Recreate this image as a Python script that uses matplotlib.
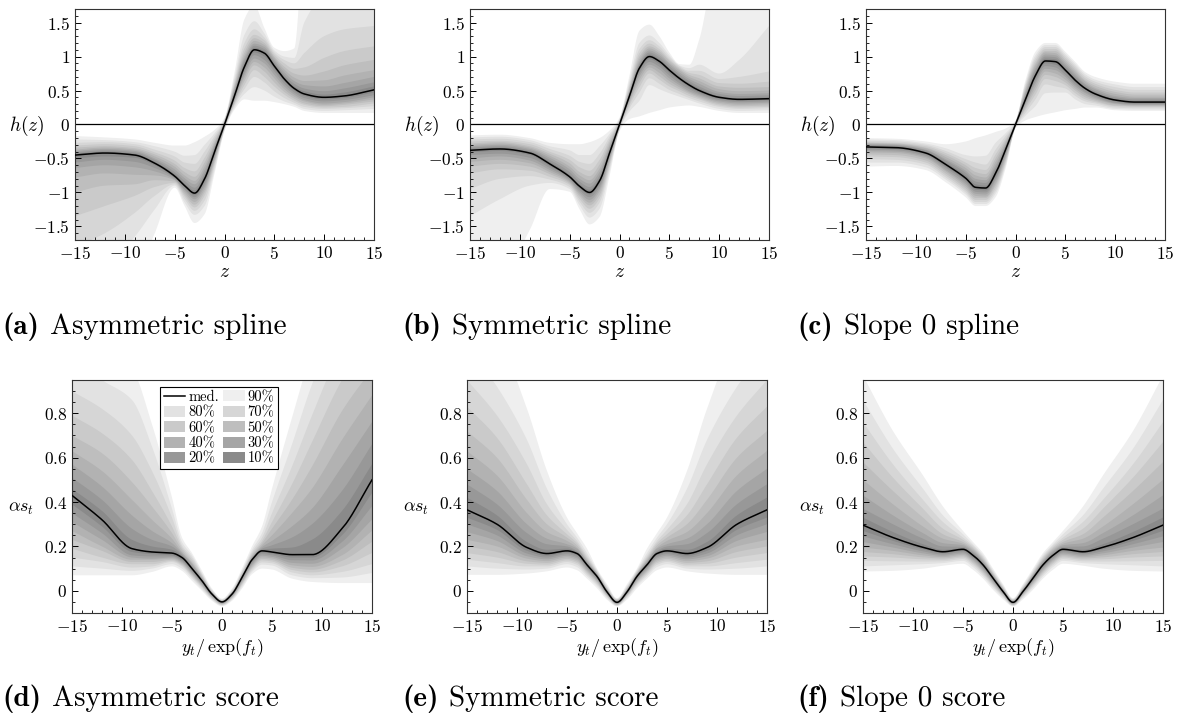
import numpy as np
import matplotlib
matplotlib.use("Agg")
import matplotlib.pyplot as plt
from matplotlib.ticker import MultipleLocator, FuncFormatter
from matplotlib.lines import Line2D
from matplotlib.patches import Patch

plt.rcParams.update({
    "font.family": "serif",
    "font.serif": ["cmr10"],
    "mathtext.fontset": "cm",
    "axes.formatter.use_mathtext": True,
})

# quantile bands, inner to outer
LEVELS = ["10%", "20%", "30%", "40%", "50%", "60%", "70%", "80%", "90%"]
SHADES = ["#8a8a8a", "#989898", "#a5a5a5", "#b2b2b2", "#bebebe",
          "#cacaca", "#d6d6d6", "#e2e2e2", "#efefef"]

# ---- top row: h(z) ----
XT = [-15, -12, -9, -7, -5, -4, -3, -2, -1, 0, 1, 2, 3, 4, 5, 6, 7, 8, 10, 12, 15]

A_MED = [-0.45, -0.42, -0.45, -0.57, -0.76, -0.90, -1.01, -0.80, -0.40, 0.00, 0.42,
         0.85, 1.10, 1.05, 0.86, 0.67, 0.53, 0.45, 0.40, 0.42, 0.51]
# rows follow XT, columns follow LEVELS
A_HI = [
    [-0.43, -0.41, -0.39, -0.37, -0.34, -0.31, -0.27, -0.22, -0.17],
    [-0.40, -0.38, -0.36, -0.34, -0.32, -0.29, -0.26, -0.23, -0.19],
    [-0.43, -0.41, -0.39, -0.37, -0.35, -0.32, -0.29, -0.26, -0.22],
    [-0.55, -0.52, -0.50, -0.47, -0.44, -0.41, -0.37, -0.32, -0.27],
    [-0.73, -0.70, -0.66, -0.62, -0.58, -0.53, -0.47, -0.40, -0.31],
    [-0.87, -0.83, -0.79, -0.75, -0.70, -0.64, -0.56, -0.46, -0.31],
    [-0.97, -0.93, -0.88, -0.83, -0.77, -0.69, -0.58, -0.45, -0.26],
    [-0.76, -0.72, -0.67, -0.62, -0.56, -0.49, -0.40, -0.30, -0.18],
    [-0.37, -0.34, -0.31, -0.28, -0.25, -0.21, -0.17, -0.13, -0.08],
    [0.01, 0.02, 0.03, 0.04, 0.05, 0.06, 0.07, 0.08, 0.10],
    [0.45, 0.48, 0.51, 0.54, 0.57, 0.60, 0.64, 0.69, 0.76],
    [0.89, 0.93, 0.97, 1.01, 1.06, 1.12, 1.20, 1.32, 1.55],
    [1.13, 1.16, 1.19, 1.23, 1.27, 1.32, 1.40, 1.52, 1.75],
    [1.08, 1.11, 1.14, 1.17, 1.20, 1.24, 1.28, 1.34, 1.42],
    [0.89, 0.92, 0.95, 0.98, 1.00, 1.03, 1.06, 1.09, 1.13],
    [0.70, 0.73, 0.77, 0.81, 0.85, 0.90, 0.95, 1.00, 1.08],
    [0.56, 0.60, 0.64, 0.69, 0.75, 0.82, 0.90, 0.98, 1.12],
    [0.49, 0.53, 0.58, 0.64, 0.72, 0.84, 1.05, 1.50, 2.60],
    [0.44, 0.49, 0.56, 0.65, 0.78, 0.98, 1.30, 1.90, 2.60],
    [0.47, 0.53, 0.61, 0.72, 0.87, 1.08, 1.40, 2.00, 2.60],
    [0.56, 0.62, 0.70, 0.80, 0.95, 1.15, 1.45, 2.00, 2.60],
]
A_LO = [
    [-0.50, -0.56, -0.64, -0.78, -1.00, -1.35, -1.80, -2.30, -3.00],
    [-0.47, -0.52, -0.60, -0.72, -0.90, -1.20, -1.60, -2.10, -2.80],
    [-0.49, -0.55, -0.63, -0.74, -0.88, -1.05, -1.30, -1.65, -2.30],
    [-0.60, -0.64, -0.69, -0.75, -0.82, -0.92, -1.05, -1.25, -1.60],
    [-0.78, -0.79, -0.81, -0.82, -0.84, -0.86, -0.88, -0.90, -0.93],
    [-0.92, -0.95, -0.97, -1.00, -1.03, -1.06, -1.10, -1.15, -1.20],
    [-1.04, -1.07, -1.10, -1.14, -1.18, -1.22, -1.27, -1.33, -1.45],
    [-0.84, -0.88, -0.92, -0.96, -1.00, -1.05, -1.12, -1.20, -1.32],
    [-0.43, -0.46, -0.49, -0.52, -0.55, -0.58, -0.62, -0.67, -0.72],
    [-0.01, -0.02, -0.03, -0.04, -0.05, -0.06, -0.07, -0.08, -0.10],
    [0.40, 0.38, 0.36, 0.34, 0.32, 0.30, 0.28, 0.25, 0.22],
    [0.81, 0.77, 0.73, 0.69, 0.64, 0.58, 0.52, 0.45, 0.37],
    [1.06, 1.02, 0.97, 0.92, 0.87, 0.80, 0.70, 0.55, 0.35],
    [1.00, 0.95, 0.90, 0.84, 0.78, 0.70, 0.62, 0.50, 0.35],
    [0.82, 0.78, 0.73, 0.68, 0.62, 0.56, 0.49, 0.41, 0.33],
    [0.64, 0.60, 0.56, 0.52, 0.48, 0.44, 0.39, 0.34, 0.30],
    [0.50, 0.47, 0.44, 0.41, 0.38, 0.35, 0.32, 0.29, 0.26],
    [0.42, 0.39, 0.36, 0.34, 0.31, 0.29, 0.26, 0.23, 0.20],
    [0.37, 0.34, 0.31, 0.29, 0.27, 0.25, 0.23, 0.20, 0.17],
    [0.39, 0.36, 0.33, 0.31, 0.29, 0.26, 0.24, 0.21, 0.17],
    [0.47, 0.43, 0.40, 0.37, 0.34, 0.31, 0.27, 0.23, 0.17],
]

B_MED = [-0.38, -0.36, -0.42, -0.58, -0.77, -0.91, -1.00, -0.83, -0.42, 0.00, 0.42,
         0.83, 1.00, 0.93, 0.80, 0.68, 0.58, 0.50, 0.40, 0.37, 0.38]
B_HI = [
    [-0.36, -0.34, -0.32, -0.30, -0.28, -0.25, -0.22, -0.19, -0.16],
    [-0.34, -0.32, -0.30, -0.28, -0.26, -0.24, -0.21, -0.18, -0.15],
    [-0.40, -0.38, -0.36, -0.34, -0.32, -0.29, -0.26, -0.23, -0.20],
    [-0.55, -0.52, -0.49, -0.46, -0.43, -0.40, -0.36, -0.32, -0.27],
    [-0.74, -0.70, -0.66, -0.62, -0.57, -0.52, -0.46, -0.38, -0.29],
    [-0.88, -0.84, -0.80, -0.75, -0.70, -0.63, -0.55, -0.45, -0.29],
    [-0.96, -0.92, -0.87, -0.82, -0.76, -0.68, -0.58, -0.45, -0.26],
    [-0.79, -0.75, -0.70, -0.65, -0.59, -0.52, -0.43, -0.32, -0.20],
    [-0.39, -0.36, -0.33, -0.30, -0.26, -0.22, -0.18, -0.14, -0.09],
    [0.01, 0.02, 0.03, 0.04, 0.05, 0.06, 0.07, 0.08, 0.10],
    [0.44, 0.46, 0.48, 0.50, 0.53, 0.56, 0.60, 0.65, 0.72],
    [0.86, 0.89, 0.92, 0.96, 1.00, 1.05, 1.11, 1.20, 1.38],
    [1.03, 1.06, 1.09, 1.12, 1.15, 1.19, 1.24, 1.31, 1.47],
    [0.96, 0.99, 1.02, 1.05, 1.08, 1.11, 1.15, 1.20, 1.30],
    [0.83, 0.86, 0.89, 0.91, 0.94, 0.96, 0.99, 1.02, 1.06],
    [0.71, 0.74, 0.77, 0.80, 0.82, 0.84, 0.86, 0.87, 0.89],
    [0.61, 0.64, 0.67, 0.70, 0.73, 0.76, 0.79, 0.83, 0.88],
    [0.53, 0.56, 0.60, 0.64, 0.68, 0.73, 0.79, 0.88, 1.25],
    [0.42, 0.45, 0.48, 0.52, 0.56, 0.61, 0.67, 0.75, 2.50],
    [0.39, 0.42, 0.45, 0.49, 0.54, 0.60, 0.70, 0.95, 2.50],
    [0.40, 0.43, 0.46, 0.50, 0.55, 0.63, 0.78, 1.45, 2.50],
]
B_LO = [
    [-0.41, -0.45, -0.50, -0.55, -0.62, -0.72, -0.95, -1.35, -2.50],
    [-0.39, -0.43, -0.47, -0.52, -0.58, -0.66, -0.80, -1.10, -2.30],
    [-0.45, -0.49, -0.53, -0.57, -0.62, -0.68, -0.76, -0.90, -1.55],
    [-0.61, -0.64, -0.67, -0.70, -0.73, -0.77, -0.81, -0.86, -0.95],
    [-0.79, -0.81, -0.83, -0.85, -0.87, -0.89, -0.92, -0.95, -0.99],
    [-0.94, -0.97, -1.00, -1.03, -1.06, -1.10, -1.14, -1.19, -1.25],
    [-1.03, -1.07, -1.11, -1.15, -1.19, -1.24, -1.30, -1.37, -1.47],
    [-0.87, -0.91, -0.95, -0.99, -1.04, -1.09, -1.15, -1.24, -1.36],
    [-0.44, -0.47, -0.50, -0.53, -0.56, -0.60, -0.64, -0.69, -0.76],
    [-0.01, -0.02, -0.03, -0.04, -0.05, -0.06, -0.07, -0.08, -0.10],
    [0.40, 0.38, 0.36, 0.34, 0.31, 0.28, 0.24, 0.19, 0.08],
    [0.79, 0.75, 0.71, 0.66, 0.61, 0.55, 0.47, 0.35, 0.12],
    [0.96, 0.92, 0.88, 0.84, 0.80, 0.75, 0.68, 0.58, 0.17],
    [0.89, 0.85, 0.81, 0.76, 0.71, 0.66, 0.60, 0.52, 0.21],
    [0.76, 0.72, 0.68, 0.64, 0.60, 0.56, 0.51, 0.46, 0.25],
    [0.65, 0.61, 0.58, 0.55, 0.52, 0.49, 0.45, 0.41, 0.27],
    [0.55, 0.52, 0.49, 0.47, 0.45, 0.42, 0.39, 0.36, 0.28],
    [0.47, 0.45, 0.43, 0.41, 0.39, 0.37, 0.34, 0.31, 0.26],
    [0.38, 0.36, 0.34, 0.32, 0.30, 0.28, 0.26, 0.23, 0.20],
    [0.35, 0.33, 0.31, 0.29, 0.27, 0.25, 0.23, 0.20, 0.17],
    [0.36, 0.34, 0.32, 0.30, 0.28, 0.26, 0.24, 0.21, 0.17],
]

C_MED = [-0.33, -0.34, -0.42, -0.59, -0.79, -0.925, -0.935, -0.72, -0.37, 0.00, 0.37,
         0.72, 0.935, 0.925, 0.80, 0.65, 0.53, 0.45, 0.36, 0.33, 0.33]
C_HI = [
    [-0.31, -0.30, -0.29, -0.28, -0.27, -0.26, -0.24, -0.22, -0.20],
    [-0.32, -0.31, -0.30, -0.29, -0.28, -0.27, -0.25, -0.23, -0.21],
    [-0.40, -0.38, -0.37, -0.35, -0.34, -0.32, -0.30, -0.28, -0.25],
    [-0.56, -0.53, -0.51, -0.48, -0.45, -0.42, -0.39, -0.35, -0.29],
    [-0.75, -0.71, -0.68, -0.64, -0.60, -0.56, -0.51, -0.45, -0.25],
    [-0.88, -0.84, -0.80, -0.75, -0.70, -0.64, -0.56, -0.47, -0.20],
    [-0.90, -0.86, -0.82, -0.78, -0.73, -0.67, -0.59, -0.46, -0.16],
    [-0.68, -0.64, -0.60, -0.55, -0.50, -0.44, -0.37, -0.27, -0.11],
    [-0.35, -0.32, -0.30, -0.27, -0.24, -0.21, -0.17, -0.13, -0.06],
    [0.01, 0.015, 0.02, 0.025, 0.03, 0.035, 0.04, 0.05, 0.06],
    [0.40, 0.43, 0.46, 0.49, 0.52, 0.55, 0.58, 0.61, 0.65],
    [0.76, 0.80, 0.83, 0.87, 0.90, 0.94, 0.98, 1.02, 1.07],
    [0.97, 1.00, 1.03, 1.06, 1.08, 1.11, 1.14, 1.17, 1.20],
    [0.96, 0.99, 1.02, 1.05, 1.08, 1.11, 1.14, 1.17, 1.20],
    [0.83, 0.86, 0.89, 0.92, 0.95, 0.98, 1.01, 1.04, 1.07],
    [0.68, 0.71, 0.74, 0.77, 0.80, 0.83, 0.86, 0.89, 0.92],
    [0.55, 0.58, 0.60, 0.63, 0.65, 0.68, 0.71, 0.74, 0.77],
    [0.47, 0.49, 0.52, 0.54, 0.57, 0.60, 0.63, 0.66, 0.70],
    [0.38, 0.40, 0.42, 0.45, 0.48, 0.51, 0.55, 0.59, 0.63],
    [0.35, 0.37, 0.39, 0.41, 0.44, 0.47, 0.51, 0.55, 0.60],
    [0.35, 0.37, 0.39, 0.41, 0.44, 0.47, 0.51, 0.55, 0.60],
]
C_LO = [
    [-0.35, -0.37, -0.39, -0.41, -0.44, -0.47, -0.51, -0.56, -0.62],
    [-0.36, -0.38, -0.40, -0.42, -0.45, -0.48, -0.52, -0.56, -0.61],
    [-0.44, -0.46, -0.48, -0.50, -0.53, -0.56, -0.59, -0.63, -0.67],
    [-0.62, -0.64, -0.67, -0.69, -0.72, -0.75, -0.78, -0.81, -0.85],
    [-0.82, -0.85, -0.88, -0.91, -0.94, -0.97, -1.00, -1.03, -1.07],
    [-0.96, -0.99, -1.02, -1.05, -1.08, -1.11, -1.14, -1.17, -1.20],
    [-0.97, -1.00, -1.03, -1.06, -1.08, -1.11, -1.14, -1.17, -1.20],
    [-0.76, -0.80, -0.83, -0.87, -0.90, -0.94, -0.98, -1.02, -1.07],
    [-0.40, -0.43, -0.46, -0.49, -0.52, -0.55, -0.58, -0.61, -0.65],
    [-0.01, -0.015, -0.02, -0.025, -0.03, -0.035, -0.04, -0.05, -0.06],
    [0.35, 0.32, 0.30, 0.27, 0.24, 0.21, 0.17, 0.13, 0.06],
    [0.68, 0.64, 0.60, 0.55, 0.50, 0.44, 0.37, 0.27, 0.11],
    [0.90, 0.86, 0.82, 0.78, 0.73, 0.67, 0.59, 0.46, 0.15],
    [0.88, 0.84, 0.80, 0.75, 0.70, 0.64, 0.56, 0.47, 0.18],
    [0.77, 0.73, 0.70, 0.66, 0.62, 0.58, 0.53, 0.47, 0.21],
    [0.62, 0.59, 0.56, 0.53, 0.50, 0.46, 0.42, 0.37, 0.23],
    [0.51, 0.48, 0.46, 0.43, 0.40, 0.37, 0.34, 0.30, 0.25],
    [0.43, 0.41, 0.39, 0.37, 0.35, 0.33, 0.31, 0.28, 0.25],
    [0.34, 0.32, 0.31, 0.30, 0.28, 0.27, 0.25, 0.23, 0.21],
    [0.31, 0.30, 0.29, 0.28, 0.27, 0.26, 0.24, 0.22, 0.20],
    [0.31, 0.30, 0.29, 0.28, 0.27, 0.26, 0.24, 0.22, 0.20],
]

# ---- bottom row: alpha s_t ----
XB = [-15, -12, -9, -7, -5, -4, -3, -2, -1, 0, 1, 2, 3, 4, 5, 7, 9, 12, 15]

D_MED = [0.43, 0.32, 0.19, 0.175, 0.17, 0.15, 0.10, 0.045, -0.015, -0.05, -0.015,
         0.06, 0.14, 0.18, 0.175, 0.163, 0.163, 0.28, 0.50]
D_HI = [
    [0.46, 0.51, 0.57, 0.63, 0.70, 0.79, 0.90, 1.05, 1.25],
    [0.36, 0.41, 0.47, 0.54, 0.62, 0.71, 0.82, 0.95, 1.10],
    [0.23, 0.28, 0.34, 0.41, 0.49, 0.59, 0.70, 0.86, 1.00],
    [0.20, 0.23, 0.27, 0.32, 0.38, 0.45, 0.54, 0.65, 0.75],
    [0.185, 0.20, 0.215, 0.235, 0.26, 0.29, 0.33, 0.37, 0.42],
    [0.157, 0.163, 0.17, 0.175, 0.185, 0.195, 0.205, 0.22, 0.24],
    [0.105, 0.11, 0.12, 0.125, 0.13, 0.14, 0.15, 0.16, 0.17],
    [0.048, 0.052, 0.055, 0.06, 0.065, 0.07, 0.075, 0.08, 0.09],
    [-0.013, -0.011, -0.009, -0.007, -0.005, -0.003, 0.0, 0.005, 0.01],
    [-0.048, -0.047, -0.046, -0.045, -0.044, -0.042, -0.04, -0.038, -0.035],
    [-0.013, -0.011, -0.009, -0.007, -0.005, -0.003, 0.0, 0.005, 0.01],
    [0.062, 0.065, 0.067, 0.07, 0.075, 0.08, 0.085, 0.09, 0.10],
    [0.143, 0.146, 0.15, 0.155, 0.16, 0.167, 0.175, 0.185, 0.20],
    [0.185, 0.19, 0.197, 0.205, 0.215, 0.225, 0.24, 0.26, 0.29],
    [0.19, 0.205, 0.225, 0.25, 0.28, 0.31, 0.35, 0.40, 0.46],
    [0.195, 0.24, 0.29, 0.35, 0.41, 0.48, 0.56, 0.66, 0.78],
    [0.23, 0.30, 0.37, 0.46, 0.56, 0.67, 0.79, 0.93, 1.08],
    [0.36, 0.45, 0.56, 0.68, 0.81, 0.95, 1.10, 1.25, 1.40],
    [0.57, 0.66, 0.76, 0.88, 1.00, 1.15, 1.30, 1.45, 1.60],
]
D_LO = [
    [0.39, 0.35, 0.31, 0.27, 0.23, 0.19, 0.15, 0.11, 0.07],
    [0.29, 0.26, 0.23, 0.20, 0.18, 0.15, 0.13, 0.10, 0.07],
    [0.175, 0.16, 0.15, 0.14, 0.13, 0.12, 0.105, 0.09, 0.07],
    [0.165, 0.155, 0.145, 0.14, 0.13, 0.12, 0.11, 0.10, 0.085],
    [0.16, 0.155, 0.15, 0.145, 0.14, 0.135, 0.13, 0.12, 0.11],
    [0.14, 0.135, 0.13, 0.125, 0.12, 0.115, 0.11, 0.10, 0.09],
    [0.093, 0.087, 0.082, 0.077, 0.072, 0.067, 0.062, 0.055, 0.045],
    [0.04, 0.035, 0.03, 0.026, 0.022, 0.018, 0.013, 0.007, 0.0],
    [-0.018, -0.021, -0.024, -0.027, -0.03, -0.033, -0.036, -0.04, -0.045],
    [-0.052, -0.054, -0.056, -0.058, -0.06, -0.062, -0.064, -0.067, -0.07],
    [-0.018, -0.021, -0.024, -0.027, -0.03, -0.033, -0.036, -0.04, -0.045],
    [0.055, 0.05, 0.045, 0.04, 0.035, 0.03, 0.025, 0.018, 0.01],
    [0.132, 0.125, 0.118, 0.112, 0.106, 0.10, 0.093, 0.085, 0.075],
    [0.172, 0.165, 0.158, 0.151, 0.144, 0.137, 0.128, 0.118, 0.10],
    [0.167, 0.16, 0.153, 0.146, 0.139, 0.132, 0.124, 0.114, 0.096],
    [0.15, 0.138, 0.126, 0.115, 0.104, 0.094, 0.083, 0.07, 0.055],
    [0.15, 0.137, 0.122, 0.108, 0.095, 0.083, 0.07, 0.057, 0.04],
    [0.25, 0.22, 0.19, 0.16, 0.135, 0.11, 0.085, 0.06, 0.035],
    [0.44, 0.38, 0.32, 0.27, 0.22, 0.17, 0.12, 0.08, 0.035],
]

E_MED = [0.365, 0.30, 0.195, 0.168, 0.18, 0.168, 0.117, 0.065, -0.005, -0.052, -0.005,
         0.065, 0.117, 0.168, 0.18, 0.168, 0.195, 0.30, 0.365]
E_HI = [
    [0.42, 0.48, 0.55, 0.63, 0.72, 0.83, 0.95, 1.10, 1.30],
    [0.34, 0.39, 0.45, 0.52, 0.60, 0.69, 0.79, 0.92, 1.15],
    [0.22, 0.26, 0.30, 0.35, 0.41, 0.48, 0.57, 0.68, 0.82],
    [0.185, 0.21, 0.235, 0.265, 0.30, 0.34, 0.39, 0.46, 0.54],
    [0.19, 0.20, 0.21, 0.225, 0.24, 0.255, 0.275, 0.30, 0.33],
    [0.175, 0.18, 0.19, 0.195, 0.205, 0.215, 0.225, 0.24, 0.26],
    [0.122, 0.127, 0.132, 0.137, 0.143, 0.15, 0.158, 0.17, 0.19],
    [0.069, 0.072, 0.075, 0.078, 0.081, 0.085, 0.089, 0.094, 0.10],
    [-0.002, 0.001, 0.004, 0.007, 0.01, 0.013, 0.017, 0.022, 0.03],
    [-0.05, -0.048, -0.046, -0.044, -0.042, -0.04, -0.038, -0.036, -0.033],
    [-0.002, 0.001, 0.004, 0.007, 0.01, 0.013, 0.017, 0.022, 0.03],
    [0.069, 0.072, 0.075, 0.078, 0.081, 0.085, 0.089, 0.094, 0.10],
    [0.122, 0.127, 0.132, 0.137, 0.143, 0.15, 0.158, 0.17, 0.19],
    [0.175, 0.18, 0.19, 0.195, 0.205, 0.215, 0.225, 0.24, 0.26],
    [0.19, 0.20, 0.21, 0.225, 0.24, 0.255, 0.275, 0.30, 0.33],
    [0.185, 0.21, 0.235, 0.265, 0.30, 0.34, 0.39, 0.46, 0.54],
    [0.22, 0.26, 0.30, 0.35, 0.41, 0.48, 0.57, 0.68, 0.82],
    [0.34, 0.39, 0.45, 0.52, 0.60, 0.69, 0.79, 0.92, 1.15],
    [0.42, 0.48, 0.55, 0.63, 0.72, 0.83, 0.95, 1.10, 1.30],
]
E_LO = [
    [0.33, 0.30, 0.265, 0.23, 0.20, 0.17, 0.14, 0.11, 0.072],
    [0.275, 0.25, 0.225, 0.20, 0.175, 0.15, 0.125, 0.10, 0.072],
    [0.18, 0.168, 0.156, 0.145, 0.133, 0.122, 0.11, 0.096, 0.078],
    [0.158, 0.15, 0.142, 0.134, 0.126, 0.118, 0.11, 0.10, 0.088],
    [0.172, 0.165, 0.158, 0.151, 0.144, 0.137, 0.13, 0.12, 0.105],
    [0.16, 0.153, 0.146, 0.139, 0.132, 0.125, 0.117, 0.107, 0.093],
    [0.11, 0.104, 0.098, 0.092, 0.086, 0.08, 0.073, 0.065, 0.055],
    [0.06, 0.055, 0.05, 0.045, 0.04, 0.035, 0.029, 0.022, 0.012],
    [-0.008, -0.011, -0.014, -0.017, -0.02, -0.024, -0.028, -0.033, -0.04],
    [-0.054, -0.056, -0.058, -0.06, -0.062, -0.064, -0.066, -0.068, -0.07],
    [-0.008, -0.011, -0.014, -0.017, -0.02, -0.024, -0.028, -0.033, -0.04],
    [0.06, 0.055, 0.05, 0.045, 0.04, 0.035, 0.029, 0.022, 0.012],
    [0.11, 0.104, 0.098, 0.092, 0.086, 0.08, 0.073, 0.065, 0.055],
    [0.16, 0.153, 0.146, 0.139, 0.132, 0.125, 0.117, 0.107, 0.093],
    [0.172, 0.165, 0.158, 0.151, 0.144, 0.137, 0.13, 0.12, 0.105],
    [0.158, 0.15, 0.142, 0.134, 0.126, 0.118, 0.11, 0.10, 0.088],
    [0.18, 0.168, 0.156, 0.145, 0.133, 0.122, 0.11, 0.096, 0.078],
    [0.275, 0.25, 0.225, 0.20, 0.175, 0.15, 0.125, 0.10, 0.072],
    [0.33, 0.30, 0.265, 0.23, 0.20, 0.17, 0.14, 0.11, 0.072],
]

F_MED = [0.296, 0.24, 0.196, 0.176, 0.187, 0.16, 0.117, 0.057, -0.003, -0.052, -0.003,
         0.057, 0.117, 0.16, 0.187, 0.176, 0.196, 0.24, 0.296]
F_HI = [
    [0.33, 0.37, 0.43, 0.50, 0.58, 0.67, 0.76, 0.86, 0.97],
    [0.265, 0.30, 0.34, 0.39, 0.45, 0.51, 0.57, 0.64, 0.72],
    [0.21, 0.235, 0.26, 0.29, 0.33, 0.37, 0.41, 0.46, 0.52],
    [0.185, 0.20, 0.215, 0.235, 0.255, 0.28, 0.31, 0.34, 0.38],
    [0.192, 0.198, 0.205, 0.212, 0.22, 0.23, 0.24, 0.255, 0.27],
    [0.166, 0.172, 0.178, 0.184, 0.19, 0.196, 0.203, 0.21, 0.22],
    [0.122, 0.127, 0.132, 0.137, 0.142, 0.148, 0.154, 0.161, 0.17],
    [0.061, 0.065, 0.069, 0.073, 0.077, 0.081, 0.086, 0.092, 0.10],
    [0.0, 0.003, 0.006, 0.009, 0.012, 0.015, 0.019, 0.024, 0.03],
    [-0.05, -0.048, -0.046, -0.044, -0.042, -0.04, -0.038, -0.036, -0.033],
    [0.0, 0.003, 0.006, 0.009, 0.012, 0.015, 0.019, 0.024, 0.03],
    [0.061, 0.065, 0.069, 0.073, 0.077, 0.081, 0.086, 0.092, 0.10],
    [0.122, 0.127, 0.132, 0.137, 0.142, 0.148, 0.154, 0.161, 0.17],
    [0.166, 0.172, 0.178, 0.184, 0.19, 0.196, 0.203, 0.21, 0.22],
    [0.192, 0.198, 0.205, 0.212, 0.22, 0.23, 0.24, 0.255, 0.27],
    [0.185, 0.20, 0.215, 0.235, 0.255, 0.28, 0.31, 0.34, 0.38],
    [0.21, 0.235, 0.26, 0.29, 0.33, 0.37, 0.41, 0.46, 0.52],
    [0.265, 0.30, 0.34, 0.39, 0.45, 0.51, 0.57, 0.64, 0.72],
    [0.33, 0.37, 0.43, 0.50, 0.58, 0.67, 0.76, 0.86, 0.97],
]
F_LO = [
    [0.27, 0.245, 0.22, 0.195, 0.175, 0.155, 0.135, 0.11, 0.087],
    [0.225, 0.21, 0.195, 0.18, 0.165, 0.15, 0.133, 0.115, 0.09],
    [0.187, 0.178, 0.169, 0.16, 0.151, 0.142, 0.132, 0.12, 0.10],
    [0.17, 0.164, 0.158, 0.152, 0.146, 0.14, 0.133, 0.125, 0.113],
    [0.18, 0.174, 0.168, 0.162, 0.156, 0.15, 0.143, 0.135, 0.122],
    [0.153, 0.147, 0.141, 0.135, 0.129, 0.123, 0.116, 0.107, 0.095],
    [0.11, 0.104, 0.098, 0.092, 0.086, 0.08, 0.073, 0.065, 0.055],
    [0.052, 0.047, 0.042, 0.037, 0.032, 0.027, 0.021, 0.014, 0.005],
    [-0.006, -0.009, -0.012, -0.015, -0.018, -0.022, -0.026, -0.031, -0.038],
    [-0.054, -0.056, -0.058, -0.06, -0.062, -0.064, -0.066, -0.068, -0.07],
    [-0.006, -0.009, -0.012, -0.015, -0.018, -0.022, -0.026, -0.031, -0.038],
    [0.052, 0.047, 0.042, 0.037, 0.032, 0.027, 0.021, 0.014, 0.005],
    [0.11, 0.104, 0.098, 0.092, 0.086, 0.08, 0.073, 0.065, 0.055],
    [0.153, 0.147, 0.141, 0.135, 0.129, 0.123, 0.116, 0.107, 0.095],
    [0.18, 0.174, 0.168, 0.162, 0.156, 0.15, 0.143, 0.135, 0.122],
    [0.17, 0.164, 0.158, 0.152, 0.146, 0.14, 0.133, 0.125, 0.113],
    [0.187, 0.178, 0.169, 0.16, 0.151, 0.142, 0.132, 0.12, 0.10],
    [0.225, 0.21, 0.195, 0.18, 0.165, 0.15, 0.133, 0.115, 0.09],
    [0.27, 0.245, 0.22, 0.195, 0.175, 0.155, 0.135, 0.11, 0.087],
]

TOP_CAPTIONS = [("(a)", "Asymmetric spline"), ("(b)", "Symmetric spline"), ("(c)", "Slope 0 spline")]
BOT_CAPTIONS = [("(d)", "Asymmetric score"), ("(e)", "Symmetric score"), ("(f)", "Slope 0 score")]


def tick_fmt(v, pos):
    return r"$%s$" % ("%g" % round(v, 3))


def smooth(x, y, xf):
    # monotone cubic (Fritsch-Carlson) through the read points, for drawing only
    x = np.asarray(x, float)
    y = np.asarray(y, float)
    h = np.diff(x)
    d = np.diff(y) / h
    m = np.zeros_like(y)
    m[0], m[-1] = d[0], d[-1]
    for k in range(1, len(y) - 1):
        if d[k - 1] * d[k] > 0:
            w1 = 2 * h[k] + h[k - 1]
            w2 = h[k] + 2 * h[k - 1]
            m[k] = (w1 + w2) / (w1 / d[k - 1] + w2 / d[k])
    i = np.clip(np.searchsorted(x, xf) - 1, 0, len(h) - 1)
    t = (xf - x[i]) / h[i]
    return ((2 * t**3 - 3 * t**2 + 1) * y[i] + (t**3 - 2 * t**2 + t) * h[i] * m[i]
            + (-2 * t**3 + 3 * t**2) * y[i + 1] + (t**3 - t**2) * h[i] * m[i + 1])


def draw_bands(ax, x, med, lo, hi):
    xf = np.linspace(-15, 15, 601)
    lo = np.array(lo).T
    hi = np.array(hi).T
    for k in range(len(LEVELS) - 1, -1, -1):
        ax.fill_between(xf, smooth(x, lo[k], xf), smooth(x, hi[k], xf),
                        facecolor=SHADES[k], lw=0, zorder=1)
    ax.plot(xf, smooth(x, med, xf), color="black", lw=1.1, zorder=3)


def style_axes(ax):
    ax.set_xlim(-15, 15)
    ax.xaxis.set_major_locator(MultipleLocator(5))
    ax.xaxis.set_minor_locator(MultipleLocator(1))
    ax.xaxis.set_major_formatter(FuncFormatter(tick_fmt))
    ax.yaxis.set_major_formatter(FuncFormatter(tick_fmt))
    ax.tick_params(which="both", direction="in", top=False, right=False, labelsize=12.5)
    ax.tick_params(which="major", length=4.5, width=0.7)
    ax.tick_params(which="minor", length=2.5, width=0.6)
    for s in ax.spines.values():
        s.set_linewidth(0.8)
        s.set_color("#333333")


fig = plt.figure(figsize=(11.83, 7.19), dpi=100)
W, H = 1183.0, 719.0

top_left = [75, 470, 866]
top_data = [(A_MED, A_LO, A_HI), (B_MED, B_LO, B_HI), (C_MED, C_LO, C_HI)]
for i, (med, lo, hi) in enumerate(top_data):
    ax = fig.add_axes([top_left[i] / W, (H - 240) / H, 299 / W, 231 / H])
    draw_bands(ax, XT, med, lo, hi)
    ax.axhline(0, color="black", lw=0.9, zorder=2)
    style_axes(ax)
    ax.set_ylim(-1.7, 1.7)
    ax.yaxis.set_major_locator(MultipleLocator(0.5))
    ax.yaxis.set_minor_locator(MultipleLocator(0.1))
    ax.set_xlabel(r"$z$", fontsize=14, labelpad=1)
    ax.set_ylabel(r"$h(z)$", fontsize=14, rotation=0)
    ax.yaxis.set_label_coords(-0.16, 0.44)

bot_left = [72, 467, 863]
bot_data = [(D_MED, D_LO, D_HI), (E_MED, E_LO, E_HI), (F_MED, F_LO, F_HI)]
for i, (med, lo, hi) in enumerate(bot_data):
    ax = fig.add_axes([bot_left[i] / W, (H - 613) / H, 300 / W, 233 / H])
    draw_bands(ax, XB, med, lo, hi)
    style_axes(ax)
    ax.set_ylim(-0.1, 0.95)
    ax.yaxis.set_major_locator(MultipleLocator(0.2))
    ax.yaxis.set_minor_locator(MultipleLocator(0.05))
    ax.set_xlabel(r"$y_t/\,\exp(f_t)$", fontsize=13, labelpad=1)
    ax.set_ylabel(r"$\alpha s_t$", fontsize=13, rotation=0)
    ax.yaxis.set_label_coords(-0.17, 0.41)
    if i == 0:
        med_h = Line2D([], [], color="black", lw=1.1)
        patches = [Patch(facecolor=c, edgecolor="none") for c in SHADES]
        # two columns, filled column by column
        handles = [med_h, patches[7], patches[5], patches[3], patches[1],
                   patches[8], patches[6], patches[4], patches[2], patches[0]]
        labels = ["med.", LEVELS[7], LEVELS[5], LEVELS[3], LEVELS[1],
                  LEVELS[8], LEVELS[6], LEVELS[4], LEVELS[2], LEVELS[0]]
        leg = ax.legend(handles, labels, ncol=2, loc="upper center",
                        bbox_to_anchor=(0.49, 0.972), fontsize=10.5,
                        handlelength=1.5, handleheight=0.8, handletextpad=0.2,
                        columnspacing=0.25, labelspacing=0.12, borderpad=0.25,
                        borderaxespad=0.0,
                        fancybox=False, framealpha=1, edgecolor="black")
        leg.get_frame().set_linewidth(0.8)

renderer = fig.canvas.get_renderer()
cap_x = [2, 402, 797]
for row_y, caps in [((H - 334) / H, TOP_CAPTIONS), ((H - 706) / H, BOT_CAPTIONS)]:
    for i, (tag, txt) in enumerate(caps):
        t = fig.text(cap_x[i] / W, row_y, tag, family="cmb10", fontsize=21,
                     va="baseline", ha="left")
        bb = t.get_window_extent(renderer)
        fig.text((bb.x1 + 11) / W, row_y, txt, fontsize=21, va="baseline", ha="left")

fig.savefig("out.png", dpi=100)
